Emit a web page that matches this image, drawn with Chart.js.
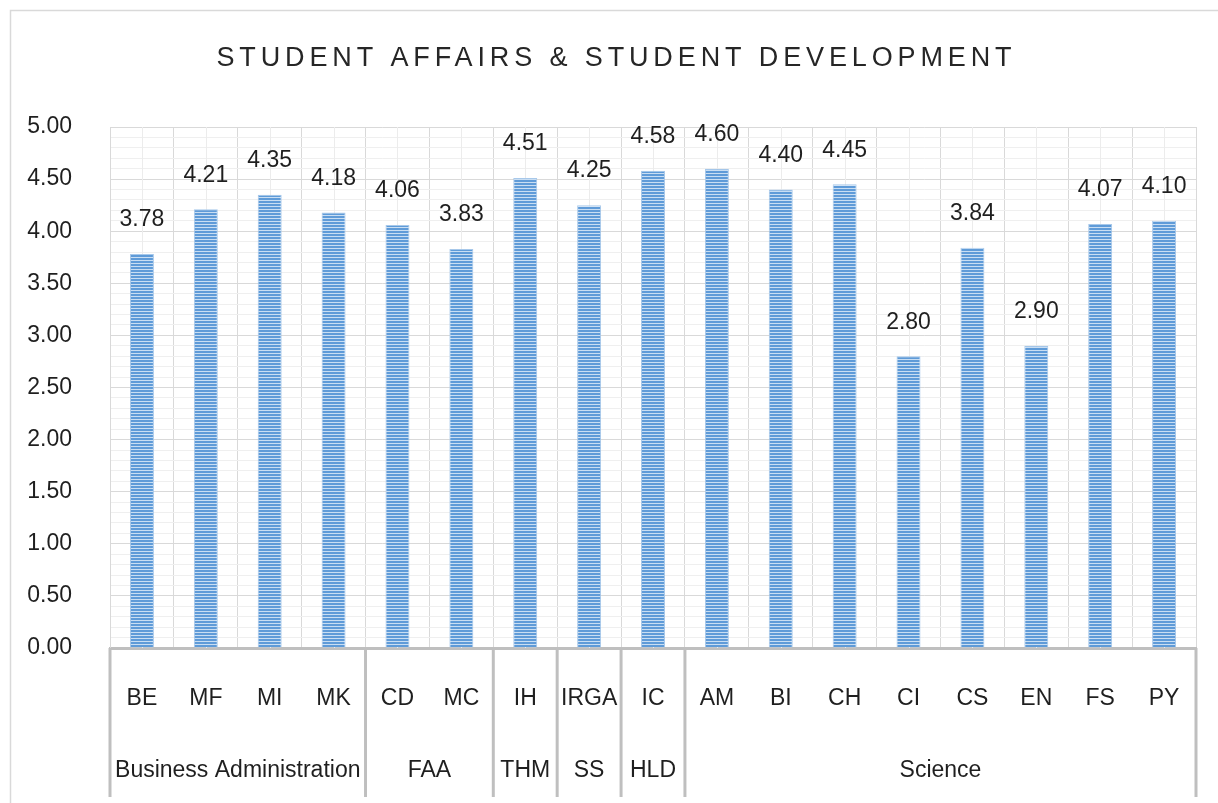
<!DOCTYPE html>
<html>
<head>
<meta charset="utf-8">
<script src="https://cdn.jsdelivr.net/npm/chart.js@4.4.1/dist/chart.umd.min.js"></script>
<style>
    html, body { margin: 0; padding: 0; background: #fff; }
    #wrap { width: 1218px; height: 803px; }
</style>
</head>
<body>
<div id="wrap"><canvas id="chart" width="1218" height="803"></canvas></div>
<script>
const chartTitle = 'STUDENT AFFAIRS & STUDENT DEVELOPMENT';
const programs = ['BE', 'MF', 'MI', 'MK', 'CD', 'MC', 'IH', 'IRGA', 'IC', 'AM', 'BI', 'CH', 'CI', 'CS', 'EN', 'FS', 'PY'];
const scores = [3.78, 4.21, 4.35, 4.18, 4.06, 3.83, 4.51, 4.25, 4.58, 4.60, 4.40, 4.45, 2.80, 3.84, 2.90, 4.07, 4.10];
const faculties = ['Business Administration', 'FAA', 'THM', 'SS', 'HLD', 'Science'];
const facultySizes = [4, 2, 1, 1, 1, 8];
const yMin = 0, yMax = 5, yMajor = 0.5, yMinor = 0.1;

const FONT = "'Liberation Sans', Arial, sans-serif";
const TEXT = '#1f1f1f';

// striped fill like the original bars
function stripePattern() {
    const c = document.createElement('canvas');
    c.width = 4; c.height = 3;
    const g = c.getContext('2d');
    g.fillStyle = '#c9def3';
    g.fillRect(0, 0, 4, 3);
    g.fillStyle = '#5f9bd8';
    g.fillRect(0, 0, 4, 2);
    return g.createPattern(c, 'repeat');
}

const isMajor = v => Math.abs(v / yMajor - Math.round(v / yMajor)) < 1e-6;

const framePlugin = {
    id: 'frame',
    beforeDraw(chart) {
        const ctx = chart.ctx;
        ctx.save();
        ctx.fillStyle = '#fff';
        ctx.fillRect(0, 0, chart.width, chart.height);
        ctx.strokeStyle = '#d9d9d9';
        ctx.lineWidth = 1.5;
        ctx.strokeRect(10.5, 10.5, chart.width + 20, chart.height + 20);
        ctx.restore();
    }
};

const centerLinesPlugin = {
    id: 'centerLines',
    beforeDatasetsDraw(chart) {
        const { ctx, chartArea, scales: { x } } = chart;
        ctx.save();
        ctx.strokeStyle = '#ececec';
        ctx.lineWidth = 1;
        programs.forEach((p, i) => {
            const px = Math.round(x.getPixelForValue(i)) + 0.5;
            ctx.beginPath();
            ctx.moveTo(px, chartArea.top);
            ctx.lineTo(px, chartArea.bottom);
            ctx.stroke();
        });
        ctx.restore();
    }
};

const valueLabelsPlugin = {
    id: 'valueLabels',
    afterDatasetsDraw(chart) {
        const ctx = chart.ctx;
        const meta = chart.getDatasetMeta(0);
        ctx.save();
        ctx.font = '23px ' + FONT;
        ctx.fillStyle = TEXT;
        ctx.textAlign = 'center';
        ctx.textBaseline = 'middle';
        meta.data.forEach((bar, i) => {
            ctx.fillText(scores[i].toFixed(2), bar.x, bar.y - 34);
        });
        ctx.restore();
    }
};

const groupsPlugin = {
    id: 'groups',
    afterDraw(chart) {
        const { ctx, scales: { x } } = chart;
        const top = x.top;
        const bottom = 797;
        ctx.save();
        ctx.strokeStyle = '#bfbfbf';
        ctx.lineWidth = 3;
        ctx.font = '23px ' + FONT;
        ctx.fillStyle = TEXT;
        ctx.textAlign = 'center';
        ctx.textBaseline = 'middle';
        let start = 0;
        const edges = [x.getPixelForValue(-0.5)];
        faculties.forEach((f, i) => {
            const end = start + facultySizes[i];
            const left = x.getPixelForValue(start - 0.5);
            const right = x.getPixelForValue(end - 0.5);
            edges.push(right);
            ctx.fillText(f, (left + right) / 2, 771);
            start = end;
        });
        edges.forEach(ex => {
            ctx.beginPath();
            ctx.moveTo(ex, top);
            ctx.lineTo(ex, bottom);
            ctx.stroke();
        });
        ctx.restore();

        // spaced-out title
        ctx.save();
        ctx.font = '27px ' + FONT;
        ctx.fillStyle = '#262626';
        ctx.textBaseline = 'middle';
        ctx.textAlign = 'left';
        const plain = ctx.measureText(chartTitle).width;
        const targetW = 800;
        const spacing = (targetW - plain) / chartTitle.length;
        ctx.letterSpacing = spacing + 'px';
        ctx.fillText(chartTitle, 614 - targetW / 2 + spacing / 2, 59);
        ctx.restore();
    }
};

const ctx = document.getElementById('chart').getContext('2d');
new Chart(ctx, {
    type: 'bar',
    data: {
        labels: programs,
        datasets: [{
            label: 'Score',
            data: scores,
            backgroundColor: stripePattern(),
            borderColor: '#a7c8ea',
            borderWidth: { left: 1, right: 1, top: 1, bottom: 0 },
            barPercentage: 0.375,
            categoryPercentage: 1
        }]
    },
    options: {
        responsive: false,
        animation: false,
        layout: { padding: { left: 10, right: 22, top: 127, bottom: 0 } },
        plugins: {
            legend: { display: false },
            title: { display: false },
            tooltip: { enabled: false }
        },
        scales: {
            x: {
                grid: { offset: true, color: '#d9d9d9', drawTicks: false },
                border: { color: '#bfbfbf', width: 3 },
                ticks: {
                    color: TEXT,
                    font: { family: FONT, size: 23 },
                    padding: 37,
                    maxRotation: 0,
                    autoSkip: false
                },
                afterFit(scale) { scale.height = 155; }
            },
            y: {
                min: yMin,
                max: yMax,
                grid: {
                    drawTicks: false,
                    color: c => isMajor(c.tick.value) ? '#d9d9d9' : '#efefef'
                },
                border: { color: '#d9d9d9', width: 1 },
                ticks: {
                    stepSize: yMinor,
                    autoSkip: false,
                    color: TEXT,
                    font: { family: FONT, size: 23 },
                    padding: 38,
                    callback: v => isMajor(v) ? v.toFixed(2) : ''
                },
                afterFit(scale) { scale.width = 100; }
            }
        }
    },
    plugins: [framePlugin, centerLinesPlugin, valueLabelsPlugin, groupsPlugin]
});
</script>
</body>
</html>
